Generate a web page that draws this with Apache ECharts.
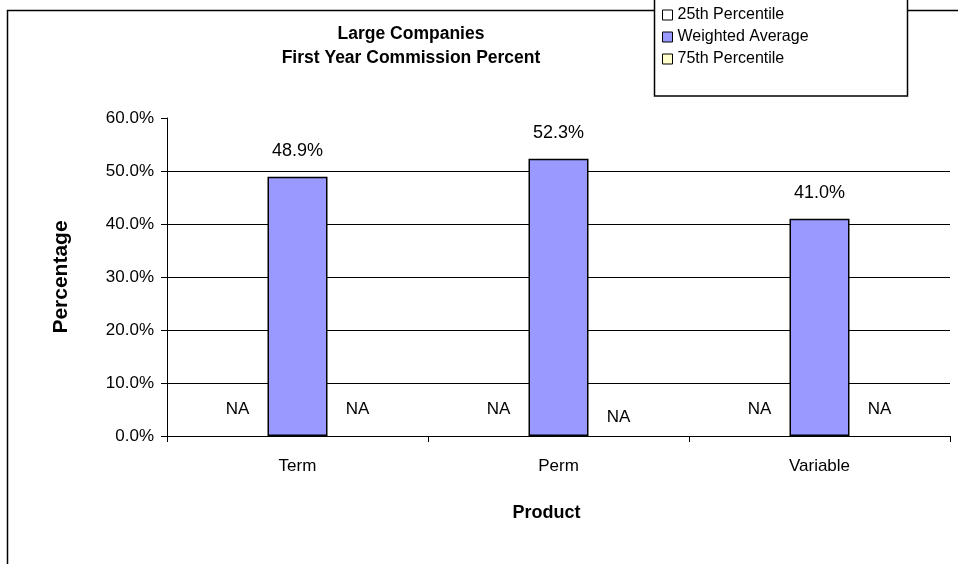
<!DOCTYPE html>
<html><head><meta charset="utf-8">
<script src="https://cdn.jsdelivr.net/npm/echarts@6/dist/echarts.min.js"></script>
<style>html,body{margin:0;padding:0;background:#fff}#c{width:958px;height:564px}</style>
</head><body><div id="c"></div>
<script>
var categories = ['Term', 'Perm', 'Variable'];
var p25 = [0, 0, 0];
var weightedAvg = [48.9, 52.3, 41.0];
var p75 = [0, 0, 0];
var yTicks = [0, 10, 20, 30, 40, 50, 60];
var seriesNames = ['25th Percentile', 'Weighted Average', '75th Percentile'];

var FONT = '"Liberation Sans", Arial, sans-serif';
var chart = echarts.init(document.getElementById('c'), null, {renderer: 'canvas'});
function naData(arr, lowIdx) {
  return arr.map(function (v, i) {
    var d = {value: v};
    if (i === lowIdx) d.label = {distance: 10};
    return d;
  });
}
var naLabel = {show: true, position: 'top', distance: 18, formatter: 'NA', fontFamily: FONT, fontSize: 17, color: '#000'};
chart.setOption({
  animation: false,
  backgroundColor: '#fff',
  textStyle: {fontFamily: FONT},
  grid: {left: 167, right: 8, top: 118, bottom: 128, containLabel: false},
  legend: {
    orient: 'vertical', left: 657, top: 2, itemWidth: 10, itemHeight: 10, itemGap: 6,
    textStyle: {fontFamily: FONT, fontSize: 16, color: '#000'},
    z: 120,
    data: [
      {name: seriesNames[0], icon: 'rect', itemStyle: {color: '#fff', borderColor: '#000', borderWidth: 1}},
      {name: seriesNames[1], icon: 'rect', itemStyle: {color: '#9999FF', borderColor: '#000', borderWidth: 1}},
      {name: seriesNames[2], icon: 'rect', itemStyle: {color: '#FFFFCC', borderColor: '#000', borderWidth: 1}}
    ]
  },
  xAxis: {
    type: 'category', data: categories,
    name: 'Product', nameLocation: 'middle', nameGap: 68,
    nameTextStyle: {fontFamily: FONT, fontSize: 18, fontWeight: 'bold', color: '#000', padding: [0, 24, 0, 0]},
    axisLine: {lineStyle: {color: '#000', width: 1}},
    axisTick: {show: true, length: 6, lineStyle: {color: '#000'}},
    axisLabel: {fontFamily: FONT, fontSize: 17, color: '#000', margin: 22}
  },
  yAxis: {
    type: 'value', min: 0, max: 60, interval: 10,
    name: 'Percentage', nameLocation: 'middle', nameGap: 95, nameRotate: 90,
    nameTextStyle: {fontFamily: FONT, fontSize: 21, fontWeight: 'bold', color: '#000'},
    axisLine: {show: true, lineStyle: {color: '#000', width: 1}},
    axisTick: {show: true, inside: false, length: 6, lineStyle: {color: '#000'}},
    axisLabel: {fontFamily: FONT, fontSize: 17, color: '#000', margin: 13,
      formatter: function (v) { return yTicks.indexOf(v) >= 0 ? v.toFixed(1) + '%' : ''; }},
    splitLine: {show: true, showMaxLine: false, lineStyle: {color: '#000', width: 1}}
  },
  series: [
    {name: seriesNames[0], type: 'bar', barWidth: 60, barGap: '0%', data: naData(p25, -1),
     itemStyle: {color: '#fff', borderColor: '#000', borderWidth: 0}, label: naLabel},
    {name: seriesNames[1], type: 'bar', barWidth: 60, barGap: '0%', data: weightedAvg,
     itemStyle: {color: '#9999FF', borderColor: '#000', borderWidth: 1.5},
     label: {show: true, position: 'top', distance: 17, fontFamily: FONT, fontSize: 18, color: '#000',
       formatter: function (p) { return p.value.toFixed(1) + '%'; }}},
    {name: seriesNames[2], type: 'bar', barWidth: 60, barGap: '0%', data: naData(p75, 1),
     itemStyle: {color: '#FFFFCC', borderColor: '#000', borderWidth: 0}, label: naLabel}
  ],
  graphic: [
    {type: 'rect', silent: true, shape: {x: 7.5, y: 10.5, width: 1000, height: 700},
     style: {fill: 'none', stroke: '#000', lineWidth: 1.5}, z: 100},
    {type: 'rect', silent: true, shape: {x: 654.5, y: -5, width: 253, height: 101},
     style: {fill: '#fff', stroke: '#000', lineWidth: 1.5}, z: 110},
    {type: 'text', silent: true, x: 411, y: 22,
     style: {text: 'Large Companies\nFirst Year Commission Percent', fontFamily: FONT, fontSize: 17.5,
       fontWeight: 'bold', fill: '#000', align: 'center', lineHeight: 24}}
  ]
});
</script></body></html>
